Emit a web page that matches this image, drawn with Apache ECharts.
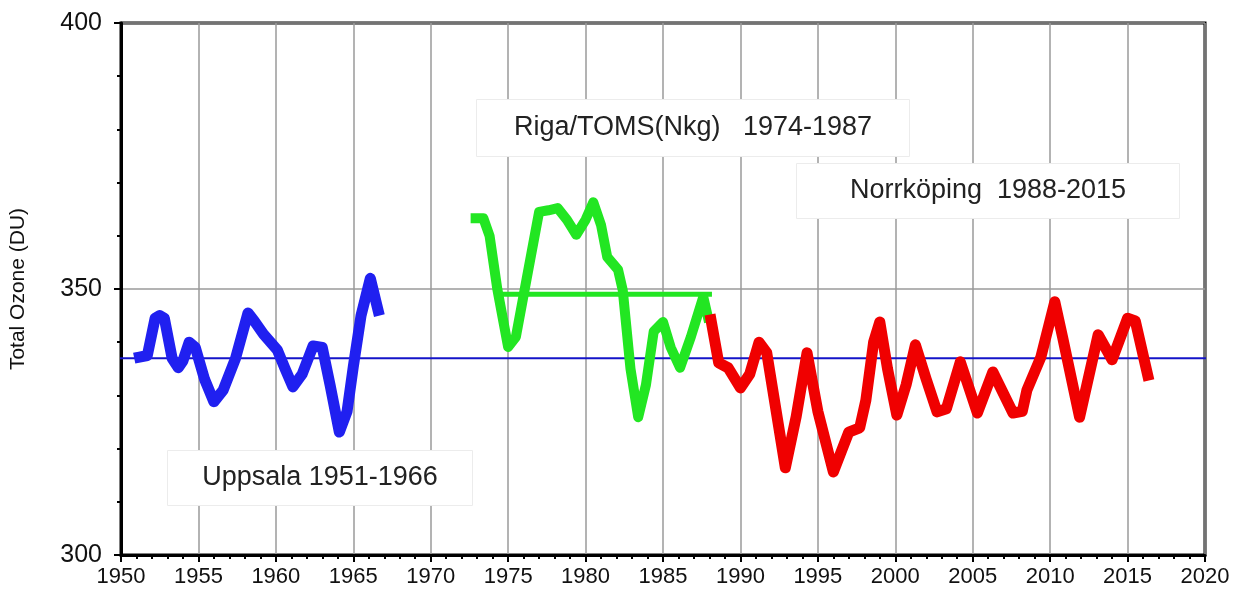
<!DOCTYPE html>
<html>
<head>
<meta charset="utf-8">
<script src="https://cdn.jsdelivr.net/npm/echarts@6/dist/echarts.min.js"></script>
<style>
  html, body { margin: 0; padding: 0; background: #fff; }
  #chart { width: 1245px; height: 595px; }
</style>
</head>
<body>
<div id="chart"></div>
<script>
'use strict';

// Uppsala 1951-1966
var uppsalaYears = [1951.2, 1951.7, 1952.2, 1952.5, 1952.8, 1953.3, 1953.7, 1954.0, 1954.4, 1954.8, 1955.4, 1956.0, 1956.6, 1957.4, 1958.2, 1958.6, 1959.2, 1960.1, 1960.6, 1961.1, 1961.7, 1962.4, 1963.0, 1963.5, 1964.1, 1964.6, 1965.0, 1965.5, 1966.1, 1966.6];
var uppsalaOzone = [337.2, 337.5, 344.5, 345, 344.5, 337, 335.2, 336.5, 340, 339, 333, 328.8, 331, 337, 345.5, 344, 341.5, 338.5, 335, 331.6, 334, 339.3, 339, 332, 323.1, 327, 335.4, 345, 352, 346];

// Riga/TOMS(Nkg) 1974-1987
var rigaYears = [1972.9, 1973.4, 1973.8, 1974.3, 1975.0, 1975.5, 1976.2, 1977.0, 1977.6, 1978.2, 1978.8, 1979.4, 1980.0, 1980.5, 1981.0, 1981.4, 1982.1, 1982.4, 1982.9, 1983.4, 1983.9, 1984.4, 1985.0, 1985.5, 1986.1, 1986.8, 1987.6, 1987.9];
var rigaOzone = [363.3, 363.3, 360, 350, 339.1, 341, 352, 364.5, 364.8, 365.2, 363, 360.2, 363, 366.3, 362, 356, 353.6, 349.8, 335, 325.9, 332, 342, 343.8, 339, 335.2, 341, 348.5, 344.7];

// Norrkoping 1988-2015
var norrYears = [1988.1, 1988.6, 1989.2, 1990.0, 1990.6, 1991.2, 1991.7, 1992.9, 1993.6, 1994.3, 1995.0, 1996.0, 1997.0, 1997.7, 1998.1, 1998.6, 1999.0, 1999.5, 2000.1, 2000.7, 2001.3, 2002.0, 2002.7, 2003.3, 2004.2, 2005.3, 2006.3, 2007.6, 2008.2, 2008.5, 2009.4, 2010.3, 2010.8, 2011.9, 2013.1, 2014.0, 2015.0, 2015.5, 2016.3];
var norrOzone = [344.2, 336.1, 335.2, 331.4, 334, 340, 338, 316.4, 326, 338, 327, 315.6, 323.1, 323.9, 329.1, 340, 343.8, 335, 326.3, 332, 339.5, 333, 326.9, 327.5, 336.3, 326.7, 334.4, 326.7, 327, 331, 337.2, 347.6, 341, 325.9, 341.4, 336.7, 344.5, 344, 333.8];

// mean levels
var meanYears = [1950, 2020];
var meanOzone = [337, 337];
var rigaMeanYears = [1974.5, 1988];
var rigaMeanOzone = [349, 349];

var labels = [
    { text: 'Uppsala 1951-1966', x: 320, y: 478, w: 305, h: 55 },
    { text: 'Riga/TOMS(Nkg)   1974-1987', x: 693, y: 128, w: 433, h: 57 },
    { text: 'Norrköping  1988-2015', x: 988, y: 191, w: 383, h: 55 }
];

function pairs(xs, ys) {
    return xs.map(function (x, i) { return [x, ys[i]]; });
}

function lineSeries(name, data, color, width, z) {
    return {
        name: name,
        type: 'line',
        data: data,
        showSymbol: false,
        symbol: 'none',
        z: z,
        lineStyle: { color: color, width: width, join: 'round', cap: 'square' },
        animation: false
    };
}

var graphics = [];
labels.forEach(function (l) {
    graphics.push({
        type: 'rect',
        shape: { x: l.x - l.w / 2, y: l.y - l.h / 2, width: l.w, height: l.h },
        style: { fill: '#fff', stroke: '#ececec', lineWidth: 1 },
        z: 5
    });
    graphics.push({
        type: 'text',
        x: l.x,
        y: l.y,
        style: {
            text: l.text,
            font: '27px "Liberation Sans", Arial, sans-serif',
            fill: '#222',
            align: 'center',
            verticalAlign: 'middle'
        },
        z: 6
    });
});

var chart = echarts.init(document.getElementById('chart'));
chart.setOption({
    backgroundColor: '#fff',
    animation: false,
    grid: {
        left: 120,
        right: 40,
        top: 23,
        bottom: 40,
        show: true,
        borderColor: '#000',
        borderWidth: 3,
        backgroundColor: 'transparent'
    },
    xAxis: {
        type: 'value',
        min: 1950,
        max: 2020,
        interval: 5,
        axisLine: { lineStyle: { color: '#000', width: 3 } },
        axisTick: { length: 7, lineStyle: { color: '#000', width: 2 } },
        minorTick: { show: true, splitNumber: 5, length: 4, lineStyle: { color: '#000', width: 2 } },
        splitLine: { show: true, lineStyle: { color: '#9a9a9a', width: 1.5 } },
        axisLabel: {
            color: '#111',
            fontSize: 22,
            fontFamily: '"Liberation Sans", Arial, sans-serif',
            margin: 11,
            formatter: function (v) { return String(v); }
        }
    },
    yAxis: {
        type: 'value',
        min: 300,
        max: 400,
        interval: 50,
        name: 'Total Ozone (DU)',
        nameLocation: 'middle',
        nameGap: 92,
        nameRotate: 90,
        nameTextStyle: { color: '#111', fontSize: 21, fontFamily: '"Liberation Sans", Arial, sans-serif' },
        axisLine: { show: true, lineStyle: { color: '#000', width: 3 } },
        axisTick: { show: true, length: 7, lineStyle: { color: '#000', width: 2 } },
        minorTick: { show: true, splitNumber: 5, length: 4, lineStyle: { color: '#000', width: 2 } },
        splitLine: { show: true, lineStyle: { color: '#9a9a9a', width: 1.5 } },
        axisLabel: {
            color: '#111',
            fontSize: 25,
            fontFamily: '"Liberation Sans", Arial, sans-serif',
            margin: 19
        }
    },
    graphic: graphics,
    series: [
        lineSeries('mean', pairs(meanYears, meanOzone), '#1414c8', 2, 1),
        lineSeries('Riga mean', pairs(rigaMeanYears, rigaMeanOzone), '#22e622', 5, 2),
        lineSeries('Uppsala', pairs(uppsalaYears, uppsalaOzone), '#2020f0', 11, 3),
        lineSeries('Riga/TOMS', pairs(rigaYears, rigaOzone), '#22e622', 10, 3),
        lineSeries('Norrköping', pairs(norrYears, norrOzone), '#f00000', 11, 3)
    ]
});
</script>
</body>
</html>
